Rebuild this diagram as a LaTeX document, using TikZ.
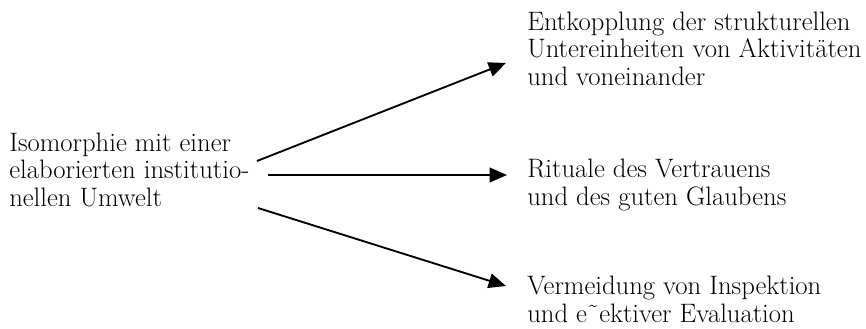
\documentclass[tikz,border=0pt]{standalone}
\usetikzlibrary{arrows.meta}
\begin{document}
\begin{tikzpicture}[x=0.75pt,y=-0.75pt,
  txt/.style={anchor=base west,inner sep=0pt,align=left,font=\fontsize{20pt}{20.6pt}\selectfont},
  arr/.style={line width=1.4pt,-{Triangle[length=13pt,width=11pt]}}]
\useasboundingbox (0,0) rectangle (866,328);
\node[txt] (src) at (9,206) {Isomorphie mit einer\\elaborierten institutio-\\nellen Umwelt};
\node[txt] (t1) at (527,85) {Entkopplung der strukturellen\\Untereinheiten von Aktivitäten\\und voneinander};
\node[txt] (t2) at (527,205) {Rituale des Vertrauens\\und des guten Glaubens};
\node[txt] (t3) at (527,322) {Vermeidung von Inspektion\\und e˜ektiver Evaluation};
\coordinate (s1) at (257,161);
\coordinate (s2) at (268,175);
\coordinate (s3) at (258,208);
\coordinate (e1) at (506,63);
\coordinate (e2) at (507,175);
\coordinate (e3) at (506,286);
\draw[arr] (s1) -- (e1);
\draw[arr] (s2) -- (e2);
\draw[arr] (s3) -- (e3);
\end{tikzpicture}
\end{document}
